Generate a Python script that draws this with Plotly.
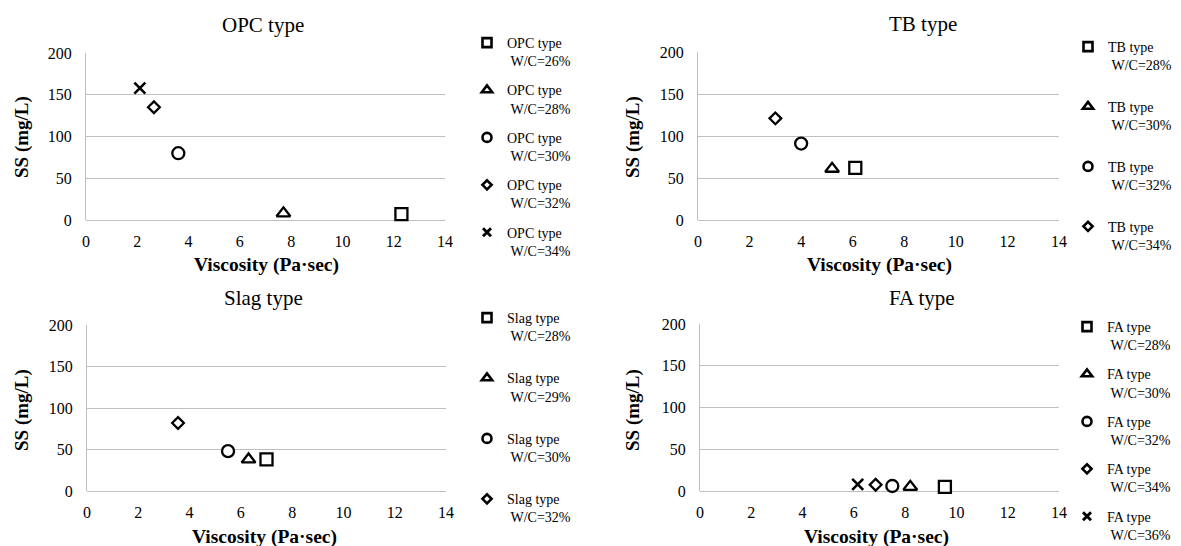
import plotly.graph_objects as go

# page body has an 8px default margin, so the figure is drawn 8px in
OFF = 8
W, H = 1181 - OFF, 546 - OFF

# ---------------- data ----------------
panel_titles = ["OPC type", "TB type", "Slag type", "FA type"]

opc_labels = ["W/C=26%", "W/C=28%", "W/C=30%", "W/C=32%", "W/C=34%"]
opc_x = [12.3, 7.7, 3.6, 2.65, 2.1]
opc_y = [7, 8, 80, 135, 158]

tb_labels = ["W/C=28%", "W/C=30%", "W/C=32%", "W/C=34%"]
tb_x = [6.1, 5.2, 4.0, 3.0]
tb_y = [62, 61, 91, 121]

slag_labels = ["W/C=28%", "W/C=29%", "W/C=30%", "W/C=32%"]
slag_x = [7.0, 6.3, 5.5, 3.55]
slag_y = [38, 38, 48, 82]

fa_labels = ["W/C=28%", "W/C=30%", "W/C=32%", "W/C=34%", "W/C=36%"]
fa_x = [9.55, 8.2, 7.5, 6.85, 6.15]
fa_y = [5, 5, 6, 7.5, 8]

x_ticks = [0, 2, 4, 6, 8, 10, 12, 14]
y_ticks = [0, 50, 100, 150, 200]

symbols = ["square", "triangle-up", "circle", "diamond", "x-thin"]
sizes = [12, 12, 12, 9, 11]
legend_sizes = [9, 9, 9, 7, 8]

# ---------------- layout geometry (screen pixels) ----------------
# plot areas: (left, right, top, bottom)
areas = [
    (86, 445, 53, 220),
    (698, 1059, 52, 220),
    (87, 446, 325, 491),
    (700, 1059, 324, 491),
]
title_pos = [(263, 25), (923, 24), (263, 298), (922, 298)]
ytitle_pos = [(22, 137), (633, 137), (22, 410), (633, 410)]
xtitle_pos = [(266, 265), (880, 265), (264, 537), (876, 537)]
# legend: (left px, top px, group gap)
legend_pos = [(467, 27, 8), (1068, 31, 20.5), (467, 302, 21), (1067, 311, 8)]

FONT = "'Liberation Serif', 'Times New Roman', serif"
GRID = "#bfbfbf"

panels = [
    (opc_labels, opc_x, opc_y),
    (tb_labels, tb_x, tb_y),
    (slag_labels, slag_x, slag_y),
    (fa_labels, fa_x, fa_y),
]

fig = go.Figure()
layout = dict(
    template="none",
    width=W, height=H,
    margin=dict(l=0, r=0, t=0, b=0, pad=0, autoexpand=False),
    paper_bgcolor="white", plot_bgcolor="white",
    font=dict(family=FONT, size=15, color="black"),
    annotations=[],
)

def px_x(p):
    return (p - OFF) / W

def px_y(p):
    return 1 - (p - OFF) / H

def make_marker(sym, size, lw):
    if sym == "x-thin":
        return dict(symbol=sym, size=size, color="black",
                    line=dict(color="black", width=lw + 0.3))
    return dict(symbol=sym, size=size, color="white",
                line=dict(color="black", width=lw))

for i, (labels, xs, ys) in enumerate(panels):
    n = i + 1
    sfx = "" if n == 1 else str(n)
    lname = "legend" if n == 1 else f"legend{n}"
    ptype = panel_titles[i]
    for k, (lab, xv, yv) in enumerate(zip(labels, xs, ys)):
        sym = symbols[k]
        # data point
        fig.add_trace(go.Scatter(
            x=[xv], y=[yv], mode="markers",
            marker=make_marker(sym, sizes[k], 2.3),
            name=f"{ptype} {lab}", showlegend=False,
            legendgroup=f"p{n}g{k}",
            xaxis=f"x{sfx}", yaxis=f"y{sfx}", cliponaxis=False,
        ))
        # legend key (smaller, bolder symbol as in the reference)
        fig.add_trace(go.Scatter(
            x=[None], y=[None], mode="markers",
            marker=make_marker(sym, legend_sizes[k], 2.6),
            name=f"{ptype}<br>\u00a0{lab}",
            legend=lname, legendgroup=f"p{n}g{k}", showlegend=True,
            xaxis=f"x{sfx}", yaxis=f"y{sfx}",
        ))
    l, r, t, b = areas[i]
    layout[f"xaxis{sfx}"] = dict(
        domain=[px_x(l), px_x(r)], anchor=f"y{sfx}", range=[0, 14],
        tickvals=x_ticks, showgrid=False, zeroline=False, showline=False,
        ticks="", ticklabelstandoff=10, automargin=False,
        tickfont=dict(family=FONT, size=16, color="black"),
        fixedrange=True,
    )
    layout[f"yaxis{sfx}"] = dict(
        domain=[px_y(b), px_y(t)], anchor=f"x{sfx}", range=[0, 200],
        tickvals=y_ticks, showgrid=True, gridcolor=GRID, gridwidth=1,
        zeroline=True, zerolinecolor=GRID, zerolinewidth=1,
        showline=True, linecolor=GRID, linewidth=1,
        ticks="", ticklabelstandoff=10, automargin=False,
        tickfont=dict(family=FONT, size=16, color="black"),
        fixedrange=True,
    )
    lx, ly, gap = legend_pos[i]
    layout[lname] = dict(
        x=px_x(lx), y=px_y(ly), xanchor="left", yanchor="top",
        bgcolor="rgba(0,0,0,0)", borderwidth=0,
        font=dict(family=FONT, size=14, color="black"),
        tracegroupgap=gap, valign="top", traceorder="grouped",
        itemclick=False, itemdoubleclick=False, itemwidth=30,
        itemsizing="trace",
    )
    tx, ty = title_pos[i]
    layout["annotations"].append(dict(
        text=ptype, x=px_x(tx), y=px_y(ty), xref="paper", yref="paper",
        xanchor="center", yanchor="middle", showarrow=False,
        font=dict(family=FONT, size=21, color="black"),
    ))
    yx, yy = ytitle_pos[i]
    layout["annotations"].append(dict(
        text="<b>SS (mg/L)</b>", x=px_x(yx), y=px_y(yy), xref="paper", yref="paper",
        xanchor="center", yanchor="middle", showarrow=False, textangle=-90,
        font=dict(family=FONT, size=19, color="black"),
    ))
    xx, xy = xtitle_pos[i]
    layout["annotations"].append(dict(
        text="<b>Viscosity (Pa\u00b7sec)</b>", x=px_x(xx), y=px_y(xy), xref="paper", yref="paper",
        xanchor="center", yanchor="middle", showarrow=False,
        font=dict(family=FONT, size=19.5, color="black"),
    ))

fig.update_layout(**layout)
fig.write_html("out.html")
